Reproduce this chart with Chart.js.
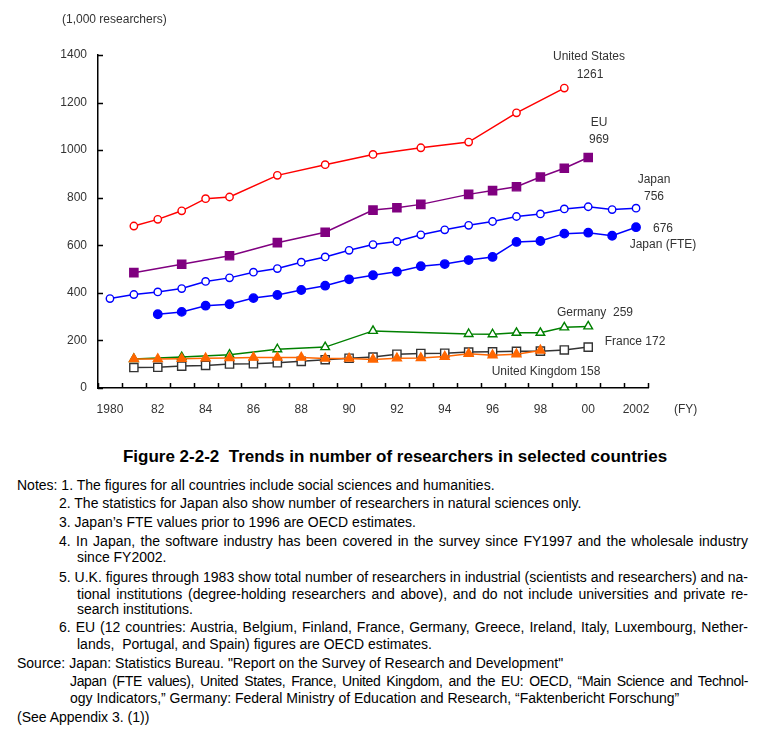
<!DOCTYPE html>
<html>
<head>
<meta charset="utf-8">
<script src="https://cdn.jsdelivr.net/npm/chart.js@4.4.1/dist/chart.umd.min.js"></script>
<style>
  html, body { margin: 0; padding: 0; background: #fff; }
  body { width: 780px; height: 737px; position: relative; overflow: hidden; font-family: "Liberation Sans", Arial, sans-serif; }
  #wrap { position: absolute; left: 0; top: 0; width: 780px; height: 430px; }
  .lbl { position: absolute; font-size: 12px; color: #333; white-space: nowrap; transform: translate(-50%, -50%); line-height: 14px; }
  .lt { position: absolute; font-size: 12px; color: #333; white-space: nowrap; line-height: 14px; transform: translateY(-50%); }
  #title { position: absolute; left: 0; width: 790px; top: 447px; text-align: center; font-weight: bold; font-size: 17px; color: #000; white-space: pre; }
  .ln { position: absolute; font-size: 14px; color: #000; height: 18px; line-height: 18px; white-space: pre; }
  .j { text-align: justify; text-align-last: justify; white-space: normal; }
</style>
</head>
<body>
<div id="wrap"><canvas id="c" width="780" height="430"></canvas></div>

<div class="lt" style="left:62px; top:19px;">(1,000 researchers)</div>
<div class="lt" style="left:674px; top:409px;">(FY)</div>

<div class="lbl" style="left:589px; top:56px;">United States</div>
<div class="lbl" style="left:590px; top:74px;">1261</div>
<div class="lbl" style="left:599px; top:122px;">EU</div>
<div class="lbl" style="left:599px; top:139px;">969</div>
<div class="lbl" style="left:654px; top:179px;">Japan</div>
<div class="lbl" style="left:654px; top:196px;">756</div>
<div class="lbl" style="left:663px; top:228px;">676</div>
<div class="lbl" style="left:663px; top:244px;">Japan (FTE)</div>
<div class="lbl" style="left:595px; top:312px;">Germany&nbsp; 259</div>
<div class="lbl" style="left:635px; top:341px;">France 172</div>
<div class="lbl" style="left:546px; top:371px;">United Kingdom 158</div>

<div id="title">Figure 2-2-2  Trends in number of researchers in selected countries</div>

<div class="ln" style="left:17px; top:476px;">Notes: 1. The figures for all countries include social sciences and humanities.</div>
<div class="ln" style="left:59px; top:494px;">2. The statistics for Japan also show number of researchers in natural sciences only.</div>
<div class="ln" style="left:59px; top:513px;">3. Japan’s FTE values prior to 1996 are OECD estimates.</div>
<div class="ln j" style="left:59px; top:532px; width:689px;">4. In Japan, the software industry has been covered in the survey since FY1997 and the wholesale industry</div>
<div class="ln" style="left:77px; top:548px;">since FY2002.</div>
<div class="ln j" style="left:59px; top:568px; width:689px;">5. U.K. figures through 1983 show total number of researchers in industrial (scientists and researchers) and na-</div>
<div class="ln j" style="left:77px; top:585px; width:671px;">tional institutions (degree-holding researchers and above), and do not include universities and private re-</div>
<div class="ln" style="left:77px; top:600px;">search institutions.</div>
<div class="ln j" style="left:59px; top:618px; width:689px;">6. EU (12 countries: Austria, Belgium, Finland, France, Germany, Greece, Ireland, Italy, Luxembourg, Nether-</div>
<div class="ln" style="left:77px; top:635px;">lands,  Portugal, and Spain) figures are OECD estimates.</div>
<div class="ln" style="left:17px; top:654px;">Source: Japan: Statistics Bureau. "Report on the Survey of Research and Development"</div>
<div class="ln j" style="left:70px; top:672px; width:678px; letter-spacing:-0.35px;">Japan (FTE values), United States, France, United Kingdom, and the EU: OECD, “Main Science and Technol-</div>
<div class="ln" style="left:70px; top:689px;">ogy Indicators,” Germany: Federal Ministry of Education and Research, “Faktenbericht Forschung”</div>
<div class="ln" style="left:17px; top:708px;">(See Appendix 3. (1))</div>

<script>
// ---- Data (thousand researchers), fiscal years 1980-2002 ----
const years = ['1980','1981','1982','1983','1984','1985','1986','1987','1988','1989','1990','1991',
               '1992','1993','1994','1995','1996','1997','1998','1999','2000','2001','2002'];
const xTickLabels = ['1980','','82','','84','','86','','88','','90','','92','','94','','96','','98','','00','','2002'];
const yTickValues = [0, 200, 400, 600, 800, 1000, 1200, 1400];

const unitedStates = [null, 681, 709, 745, 796, 803, null, 894, null, 939, null, 982, null, 1010, null, 1034, null, 1157, null, 1261, null, null, null];
const eu           = [null, 485, null, 520, null, 556, null, 611, null, 655, null, 748, 758, 772, null, 814, 830, 846, 887, 924, 969, null, null];
const japan        = [376, 393, 404, 418, 448, 463, 487, 502, 529, 551, 579, 603, 616, 644, 665, 684, 700, 721, 732, 753, 762, 750, 756];
const japanFTE     = [null, null, 310, 320, 346, 352, 378, 391, 412, 430, 457, 474, 489, 512, 521, 538, 551, 614, 618, 649, 653, 640, 676];
const germany      = [null, 122, null, 130, null, 140, null, 163, null, 172, null, 240, null, null, null, 227, 226, 232, 232, 255, 259, null, null];
const france       = [null, 86, 87, 92, 95, 101, 102, 106, 112, 119, 125, 130, 142, 145, 146, 151, 152, 154, 155, 160, 172, null, null];
const unitedKingdom= [null, 122, 122, 123, 125, 126, 128, 128, 128, 124, 124, 120, 125, 126, 132, 144, 138, 142, 158, null, null, null, null];

const FONT = "'Liberation Sans', Arial, sans-serif";

const inwardTicks = {
  id: 'inwardTicks',
  afterDraw(chart) {
    const { ctx, chartArea: a, scales: { x, y } } = chart;
    ctx.save();
    ctx.strokeStyle = '#000';
    ctx.lineWidth = 1.5;
    ctx.beginPath();
    y.ticks.forEach((t, i) => {
      const py = Math.round(y.getPixelForTick(i)) + 0.5;
      ctx.moveTo(a.left, py);
      ctx.lineTo(a.left + 5, py);
    });
    const n = x.ticks.length;
    for (let i = 0; i <= n; i++) {
      const px = Math.round(a.left + (a.right - a.left) * i / n) + 0.5;
      ctx.moveTo(px, a.bottom);
      ctx.lineTo(px, a.bottom - 5);
    }
    ctx.stroke();
    ctx.restore();
  }
};

function ds(label, data, color, style, fill, radius, order) {
  return {
    label, data,
    borderColor: color,
    backgroundColor: fill ? color : '#ffffff',
    pointBackgroundColor: fill ? color : '#ffffff',
    pointBorderColor: color,
    pointStyle: style,
    pointRadius: radius,
    pointBorderWidth: 1.4,
    borderWidth: 1.5,
    tension: 0,
    spanGaps: true,
    order
  };
}

new Chart(document.getElementById('c'), {
  type: 'line',
  data: {
    labels: years,
    datasets: [
      ds('United States', unitedStates, '#ff0000', 'circle', false, 3.7, 7),
      ds('EU', eu, '#800080', 'rect', true, 5.8, 6),
      ds('Japan', japan, '#0000ff', 'circle', false, 3.7, 5),
      ds('Japan (FTE)', japanFTE, '#0000ff', 'circle', true, 4.2, 4),
      ds('Germany', germany, '#008000', 'triangle', false, 5, 3),
      ds('France', france, '#333333', 'rect', false, 5.8, 2),
      ds('United Kingdom', unitedKingdom, '#ff6600', 'triangle', true, 5.2, 1)
    ]
  },
  options: {
    responsive: false,
    animation: false,
    layout: { padding: { left: 0, top: 55, right: 132, bottom: 0 } },
    plugins: { legend: { display: false }, tooltip: { enabled: false } },
    scales: {
      x: {
        type: 'category',
        offset: true,
        grid: { display: false, drawTicks: false },
        border: { display: true, color: '#000', width: 1.5 },
        ticks: {
          autoSkip: false, maxRotation: 0, minRotation: 0, padding: 14,
          color: '#333', font: { family: FONT, size: 12 },
          callback: (v, i) => xTickLabels[i]
        },
        afterFit(s) { s.height = 42; }
      },
      y: {
        min: 0, max: 1400,
        grid: { display: false, drawTicks: false },
        border: { display: true, color: '#000', width: 1.5 },
        afterBuildTicks(s) { s.ticks = yTickValues.map(v => ({ value: v })); },
        ticks: { padding: 11, color: '#333', font: { family: FONT, size: 12 }, callback: (v) => String(v) },
        afterFit(s) { s.width = 98; }
      }
    }
  },
  plugins: [inwardTicks]
});
</script>
</body>
</html>
